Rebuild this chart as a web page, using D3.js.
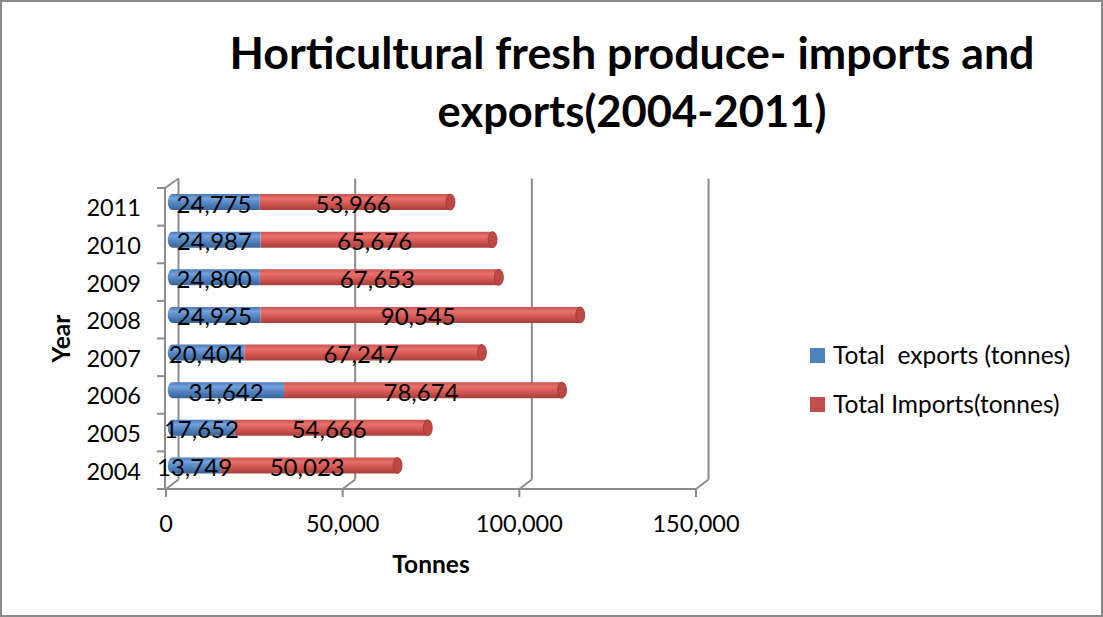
<!DOCTYPE html>
<html>
<head>
<meta charset="utf-8">
<script src="https://cdn.jsdelivr.net/npm/d3@7"></script>
<style>
  html, body { margin: 0; padding: 0; background: #fff; }
  svg { display: block; font-family: Lato, "Open Sans", sans-serif; }
  text { white-space: pre; }
</style>
</head>
<body>
<svg id="chart" width="1103" height="617"></svg>
<script>
// Horticultural fresh produce, tonnes per year
const years = ["2004", "2005", "2006", "2007", "2008", "2009", "2010", "2011"];
const exportsT = [13749, 17652, 31642, 20404, 24925, 24800, 24987, 24775];
const importsT = [50023, 54666, 78674, 67247, 90545, 67653, 65676, 53966];
const seriesNames = ["Total  exports (tonnes)", "Total Imports(tonnes)"];
const xTicks = [0, 50000, 100000, 150000];
const titleLines = ["Horticultural fresh produce- imports and", "exports(2004-2011)"];

const svg = d3.select("#chart");
const W = 1103, H = 617;

// outer frame
svg.append("rect").attr("x", 1).attr("y", 1).attr("width", W - 2).attr("height", H - 2)
  .attr("fill", "#fff").attr("stroke", "#8a8a8a").attr("stroke-width", 2);

// 3D box: front plane and depth offset
const front = { left: 166, right: 696, top: 188, bottom: 489 };
const depth = { dx: 12.5, dy: -9.5 };

const x = d3.scaleLinear().domain([0, 150000]).range([front.left, front.right]);
const y = d3.scaleBand().domain(years.slice().reverse()).range([front.top, front.bottom]);

const grid = "#8c8c8c";
const defs = svg.append("defs");

function cylGrad(id, stops) {
  const g = defs.append("linearGradient").attr("id", id)
    .attr("x1", 0).attr("y1", 0).attr("x2", 0).attr("y2", 1);
  stops.forEach(([o, c]) => g.append("stop").attr("offset", o).attr("stop-color", c));
}
cylGrad("gBlue", [[0, "#4a79b5"], [0.28, "#74a2dc"], [0.55, "#5487c4"], [1, "#3a6397"]]);
cylGrad("gRed", [[0, "#c9534f"], [0.28, "#e8716c"], [0.55, "#d85a55"], [1, "#a63f3c"]]);

// back-wall gridlines
const wall = svg.append("g");
xTicks.forEach(t => {
  const xb = x(t) + depth.dx;
  wall.append("line").attr("x1", xb).attr("x2", xb)
    .attr("y1", front.top + depth.dy).attr("y2", front.bottom + depth.dy)
    .attr("stroke", grid).attr("stroke-width", 2);
  // floor depth edge
  wall.append("line").attr("x1", x(t)).attr("y1", front.bottom)
    .attr("x2", x(t) + depth.dx).attr("y2", front.bottom + depth.dy)
    .attr("stroke", grid).attr("stroke-width", 2);
});
// side wall
wall.append("line").attr("x1", front.left - 1).attr("x2", front.left - 1)
  .attr("y1", front.top).attr("y2", front.bottom)
  .attr("stroke", grid).attr("stroke-width", 2);
wall.append("line").attr("x1", front.left - 1).attr("y1", front.top)
  .attr("x2", front.left + depth.dx).attr("y2", front.top + depth.dy)
  .attr("stroke", grid).attr("stroke-width", 2);

// value axis along the floor front edge
wall.append("line").attr("x1", front.left - 9).attr("x2", front.right)
  .attr("y1", front.bottom).attr("y2", front.bottom)
  .attr("stroke", grid).attr("stroke-width", 2);
xTicks.forEach(t => {
  wall.append("line").attr("x1", x(t)).attr("x2", x(t))
    .attr("y1", front.bottom).attr("y2", front.bottom + 8)
    .attr("stroke", grid).attr("stroke-width", 2);
});
// category ticks
const catEdges = years.map(yr => y(yr)).concat([front.bottom]);
catEdges.forEach(v => {
  wall.append("line").attr("x1", front.left - 9).attr("x2", front.left - 1)
    .attr("y1", v).attr("y2", v).attr("stroke", grid).attr("stroke-width", 2);
});

// tick labels
const fmt = d3.format(",");
svg.append("g").selectAll("text").data(xTicks).join("text")
  .attr("x", d => x(d)).attr("y", 532).attr("text-anchor", "middle")
  .attr("font-size", 23.5).attr("fill", "#000").text(d => fmt(d));
svg.append("g").selectAll("text").data(years).join("text")
  .attr("x", 141).attr("y", d => y(d) + y.bandwidth() / 2 + 9.5).attr("text-anchor", "end")
  .attr("font-size", 23.5).attr("fill", "#000").text(d => d);

// bars as horizontal cylinders in the middle depth plane
const mx = v => x(v) + depth.dx / 2;
const my = yr => y(yr) + y.bandwidth() / 2 + depth.dy / 2;
const barH = 16, rx = 4.5, ry = barH / 2;

const bars = svg.append("g");
years.forEach((yr, i) => {
  const cy = my(yr);
  const x0 = mx(0), x1 = mx(exportsT[i]), x2 = mx(exportsT[i] + importsT[i]);
  const top = cy - ry, bot = cy + ry;
  // exports segment, rounded start
  bars.append("path")
    .attr("d", `M${x1},${top} L${x0},${top} A${rx},${ry} 0 0 0 ${x0},${bot} L${x1},${bot} Z`)
    .attr("fill", "url(#gBlue)");
  // imports segment
  bars.append("path")
    .attr("d", `M${x1},${top} L${x2},${top} L${x2},${bot} L${x1},${bot} Z`)
    .attr("fill", "url(#gRed)");
  // end cap
  bars.append("ellipse").attr("cx", x2).attr("cy", cy).attr("rx", rx).attr("ry", ry)
    .attr("fill", "#bf4844").attr("stroke", "#9a3835").attr("stroke-width", 0.8);
});

// value labels centred on each segment
const labels = svg.append("g").attr("font-size", 24).attr("fill", "#000").attr("text-anchor", "middle");
years.forEach((yr, i) => {
  const ly = my(yr) + 10.5;
  labels.append("text").attr("x", mx(exportsT[i] / 2) - 2).attr("y", ly).text(fmt(exportsT[i]));
  labels.append("text").attr("x", mx(exportsT[i] + importsT[i] / 2) - 2).attr("y", ly).text(fmt(importsT[i]));
});

// axis titles
svg.append("text").attr("x", (front.left + front.right) / 2).attr("y", 573)
  .attr("text-anchor", "middle").attr("font-weight", "bold").attr("font-size", 24.5).text("Tonnes");
svg.append("text").attr("transform", `translate(70,${(front.top + front.bottom) / 2}) rotate(-90)`)
  .attr("text-anchor", "middle").attr("font-weight", "bold").attr("font-size", 24.5).text("Year");

// chart title
const titleWidths = [805, 389];
const titleBase = [69, 127];
titleLines.forEach((t, i) => {
  svg.append("text").attr("x", 632).attr("y", titleBase[i]).attr("text-anchor", "middle")
    .attr("font-weight", "bold").attr("font-size", 44)
    .attr("textLength", titleWidths[i]).attr("lengthAdjust", "spacingAndGlyphs").text(t);
});

// legend
const legColors = ["#4f81bd", "#c0504d"];
const leg = svg.append("g");
seriesNames.forEach((n, i) => {
  const ly = 348 + i * 49;
  leg.append("rect").attr("x", 810).attr("y", ly).attr("width", 15).attr("height", 15).attr("fill", legColors[i]);
  leg.append("text").attr("x", 833).attr("y", ly + 15.5).attr("font-size", 24.5).attr("fill", "#000").text(n);
});
</script>
</body>
</html>
